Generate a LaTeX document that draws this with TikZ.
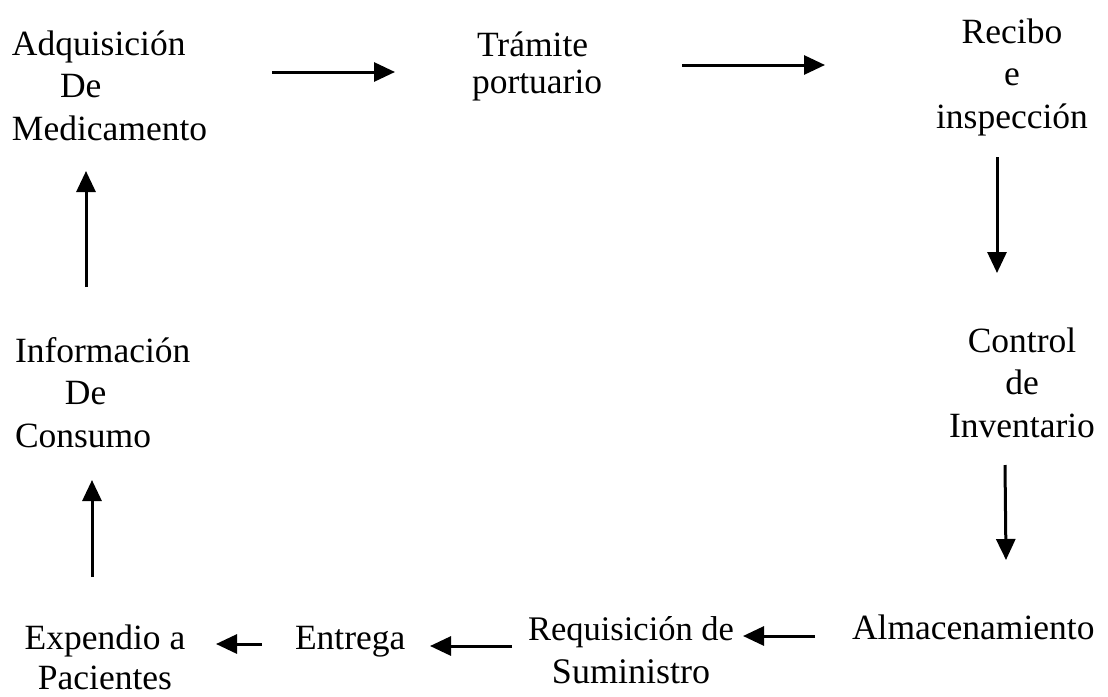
\documentclass[tikz,border=0pt]{standalone}
\usepackage{fontspec}
\setmainfont{Liberation Serif}
\usetikzlibrary{arrows.meta}
\begin{document}
\begin{tikzpicture}[x=1pt,y=-1pt,
  lbl/.style={inner sep=0pt,outer sep=0pt,font=\fontsize{35.5}{42.5}\selectfont},
  arr/.style={line width=3pt,-{Triangle[length=21pt,width=19pt]}}]
\useasboundingbox (0,0) rectangle (1108,696);

% for multi-line nodes the base anchor lies on the last line
\node[lbl,align=left,anchor=base west] (adq) at (12,140)
  {Adquisición\\\hspace*{48pt}De\\Medicamento};
\node[lbl,align=left,anchor=base west,font=\fontsize{35.5}{37}\selectfont] (tram) at (472,93)
  {\hspace*{5pt}Trámite\\portuario};
\node[lbl,align=center,anchor=base] (rec) at (1012,128)
  {Recibo\\e\\inspección};
\node[lbl,align=center,anchor=base] (ctl) at (1022,437)
  {Control\\de\\Inventario};
\node[lbl,anchor=base west] (alm) at (852,639) {Almacenamiento};
\node[lbl,align=center,anchor=base] (req) at (631,683)
  {{\fontsize{34.5}{42}\selectfont Requisición de}\\{\fontsize{36}{42}\selectfont Suministro}};
\node[lbl,anchor=base west] (ent) at (295,649) {Entrega};
\node[lbl,align=center,anchor=base,font=\fontsize{35.5}{40}\selectfont] (exp) at (105,689)
  {Expendio a\\Pacientes};
\node[lbl,align=left,anchor=base west] (info) at (15,447)
  {Información\\\hspace*{50pt}De\\Consumo};

\draw[arr] ([shift={(260,-68)}]adq.base west) -- ([shift={(-77,-21)}]tram.base west);
\draw[arr] ([shift={(210,-28)}]tram.base west) -- ([shift={(-187,-63)}]rec.base);
\draw[arr] ([shift={(-15,29)}]rec.base) -- ([shift={(-25,-164)}]ctl.base);
\draw[arr] ([shift={(-17,28)}]ctl.base) -- ([shift={(154,-79)}]alm.base west);
\draw[arr] ([shift={(-37,-3)}]alm.base west) -- ([shift={(112,-47)}]req.base);
\draw[arr] ([shift={(-119,-37)}]req.base) -- ([shift={(135,-3)}]ent.base west);
\draw[arr] ([shift={(-33,-5)}]ent.base west) -- ([shift={(111,-45)}]exp.base);
\draw[arr] ([shift={(-13,-112)}]exp.base) -- ([shift={(77,33)}]info.base west);
\draw[arr] ([shift={(71,-160)}]info.base west) -- ([shift={(74,31)}]adq.base west);
\end{tikzpicture}
\end{document}
